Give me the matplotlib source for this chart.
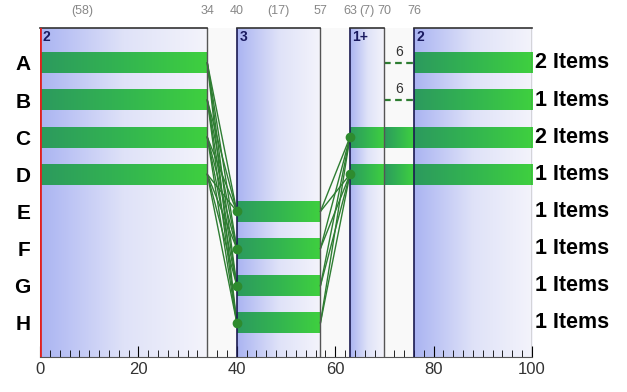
import numpy as np
import matplotlib
matplotlib.use("Agg")
import matplotlib.pyplot as plt
from matplotlib.colors import LinearSegmentedColormap

plt.rcParams["font.family"] = ["Liberation Sans", "DejaVu Sans"]

# ---- data ----
rows = ["A", "B", "C", "D", "E", "F", "G", "H"]
right_labels = ["2 Items", "1 Items", "2 Items", "1 Items", "1 Items", "1 Items", "1 Items", "1 Items"]
panels_start = [0, 40, 63, 76]
panels_end = [34, 57, 70, 100]
panel_names = ["2", "3", "1+", "2"]
panel_rows = [[0, 1, 2, 3], [4, 5, 6, 7], [2, 3], [0, 1, 2, 3]]
gap_bars_rows = [2, 3]          # bars spanning gap 70-76
gap_start, gap_end = 70, 76
dashed_rows = [0, 1]
dashed_labels = ["6", "6"]
top_pos = [8.5, 34, 40, 48.5, 57, 63, 66.5, 70, 76]
top_text = ["(58)", "34", "40", "(17)", "57", "63", "(7)", "70", "76"]
links1_from = [0, 1, 2, 3]
links1_to = [4, 5, 6, 7]
links2_from = [4, 5, 6, 7]
links2_to = [2, 3]

fig = plt.figure(figsize=(6.27, 3.92), dpi=100)
ax = fig.add_axes([0.0638, 0.0893, 0.7847, 0.8393])
ax.set_xlim(0, 100)
ax.set_ylim(7.92, -0.94)
ax.set_facecolor("#f9f9f9")

bg_cmap = LinearSegmentedColormap.from_list("bg", ["#aab4f2", "#dfe2f8", "#f4f4fb"])
bar_cmap = LinearSegmentedColormap.from_list("bar", ["#2c9a5e", "#33b550", "#3fd03f"])
grad = np.linspace(0, 1, 256).reshape(1, -1)
bh = 0.56

for s, e, name, prs in zip(panels_start, panels_end, panel_names, panel_rows):
    ax.imshow(grad, cmap=bg_cmap, aspect="auto", extent=(s, e, 7.92, -0.94), zorder=1)
    for r in prs:
        ax.imshow(grad, cmap=bar_cmap, aspect="auto",
                  extent=(s, e, r + bh / 2, r - bh / 2), zorder=2)
    ax.plot([s, s], [7.92, -0.94], color="#1a1a50", lw=1.2, zorder=4)
    ax.plot([e, e], [7.92, -0.94], color="#555555", lw=1.0, zorder=4)
    ax.plot([s, e], [-0.94, -0.94], color="#333333", lw=1.2, zorder=4, clip_on=False)
    ax.text(s + 0.5, -0.88, name, color="#1a1a60", fontsize=10, fontweight="bold",
            va="top", ha="left", zorder=5)

for r in gap_bars_rows:
    ax.imshow(grad, cmap=bar_cmap, aspect="auto",
              extent=(gap_start, gap_end, r + bh / 2, r - bh / 2), zorder=2)

for r, t in zip(dashed_rows, dashed_labels):
    ax.plot([gap_start, gap_end], [r, r], color="#2e7d32", lw=1.6,
            ls=(0, (3, 2)), zorder=3)
    ax.text((gap_start + gap_end) / 2, r - 0.1, t, ha="center", va="bottom",
            fontsize=10, color="#333333", zorder=5)

# links
for a in links1_from:
    for b in links1_to:
        ax.plot([34, 40], [a, b], color="#2e7d32", lw=1.0, zorder=3)
for b in links1_to:
    ax.plot([40], [b], "o", color="#2e8b2e", ms=6, zorder=5)
for a in links2_from:
    for b in links2_to:
        ax.plot([57, 63], [a, b], color="#2e7d32", lw=1.0, zorder=3)
for b in links2_to:
    ax.plot([63], [b], "o", color="#2e8b2e", ms=6, zorder=5)

ax.axvline(0, color="#e02020", lw=2.0, zorder=6)

# row labels
ax.set_yticks(range(len(rows)))
ax.set_yticklabels(rows, fontsize=15, fontweight="bold")
ax.tick_params(axis="y", length=0, pad=7)
for i, t in enumerate(right_labels):
    ax.annotate(t, xy=(1.0, i), xycoords=("axes fraction", "data"),
                xytext=(2, 0), textcoords="offset points",
                fontsize=15.5, fontweight="bold", va="center", ha="left")

for p, t in zip(top_pos, top_text):
    ax.annotate(t, xy=(p, -0.94), xycoords="data", xytext=(0, 8),
                textcoords="offset points", ha="center", va="bottom",
                fontsize=9, color="#888888", annotation_clip=False)

ax.set_xticks([0, 20, 40, 60, 80, 100])
ax.set_xticks(np.arange(0, 101, 2), minor=True)
ax.tick_params(axis="x", which="major", length=8, labelsize=12, labelcolor="#333333", direction="in")
ax.tick_params(axis="x", which="minor", length=5, direction="in")

for sp in ["top", "left", "right"]:
    ax.spines[sp].set_visible(False)
ax.spines["bottom"].set_color("#555555")

fig.savefig("out.png", dpi=100)
